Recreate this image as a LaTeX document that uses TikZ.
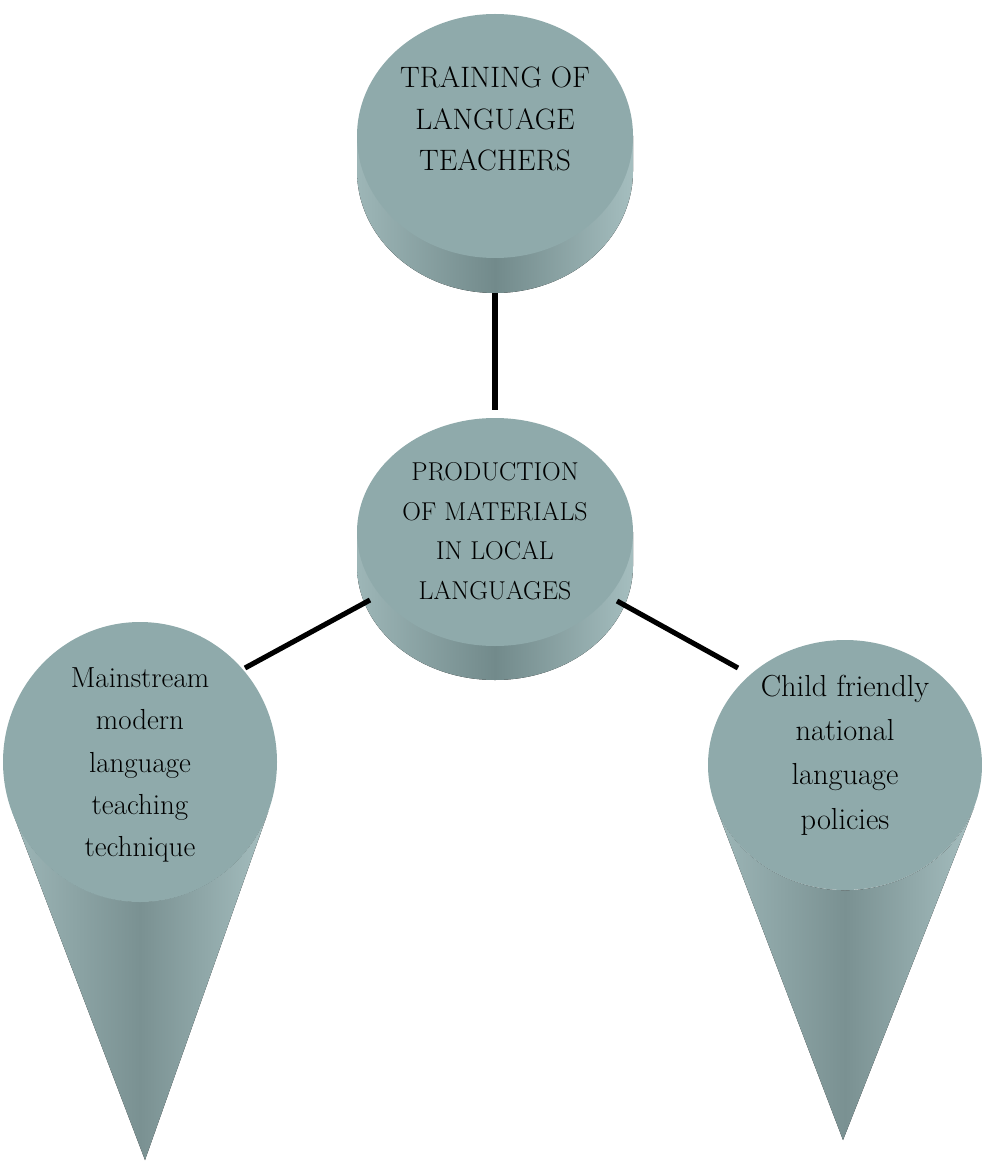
\documentclass[tikz,border=0pt]{standalone}
\usepackage{fontspec}
\setmainfont{Latin Modern Roman}
\begin{document}
\begin{tikzpicture}[x=0.02cm,y=-0.02cm,
  face/.style={fill=facecol},
  bodyshade/.style={left color=bodyL,right color=bodyR,middle color=bodyM},
  coneshade/.style={left color=bodyL,right color=bodyR,middle color=coneM},
  conn/.style={line width=2.9pt,black},
  lbl/.style={align=center,text=black,inner sep=0pt}]
\definecolor{facecol}{HTML}{8FAAAB}
\definecolor{bodyL}{HTML}{9DB6B7}
\definecolor{bodyM}{HTML}{728A8B}
\definecolor{coneM}{HTML}{7A9192}
\definecolor{bodyR}{HTML}{A5BEBF}
\useasboundingbox (0,0) rectangle (982,1162);
% top cylinder
\fill[bodyshade] (357,136) -- (357,171) arc[start angle=180,end angle=0,x radius=138,y radius=122] -- (633,136) -- cycle;
\fill[face] (495,136) ellipse[x radius=138,y radius=122];
% middle cylinder
\fill[bodyshade] (357,532) -- (357,566) arc[start angle=180,end angle=0,x radius=138,y radius=114] -- (633,532) -- cycle;
\fill[face] (495,532) ellipse[x radius=138,y radius=114];
% left cone
\fill[coneshade] (145,1160) -- (12,811) arc[start angle=159.4,end angle=20.6,x radius=137,y radius=140] -- cycle;
\fill[face] (140,762) ellipse[x radius=137,y radius=140];
% right cone
\fill[coneshade] (843,1140) -- (716,807) arc[start angle=160.5,end angle=19.5,x radius=137,y radius=125] -- cycle;
\fill[face] (845,765) ellipse[x radius=137,y radius=125];
% labels
\node[lbl,font=\fontsize{16.8}{23.5}\selectfont] (top) at (495,119) {TRAINING OF\\LANGUAGE\\TEACHERS};
\node[lbl,font=\fontsize{14.7}{22.5}\selectfont] (mid) at (495,531) {PRODUCTION\\OF MATERIALS\\IN LOCAL\\LANGUAGES};
\node[lbl,font=\fontsize{16.5}{24}\selectfont] (left) at (140,765) {Mainstream\\modern\\language\\teaching\\technique};
\node[lbl,font=\fontsize{17.3}{25.3}\selectfont] (right) at (845,755) {Child friendly\\national\\language\\policies};
% connector end points
\coordinate (topB) at (495,293);
\coordinate (midT) at (495,410);
\coordinate (midL) at (370,600);
\coordinate (leftR) at (245,668);
\coordinate (midR) at (617,601);
\coordinate (rightL) at (738,668);
\draw[conn] (topB) -- (midT);
\draw[conn] (midL) -- (leftR);
\draw[conn] (midR) -- (rightL);
\end{tikzpicture}
\end{document}
